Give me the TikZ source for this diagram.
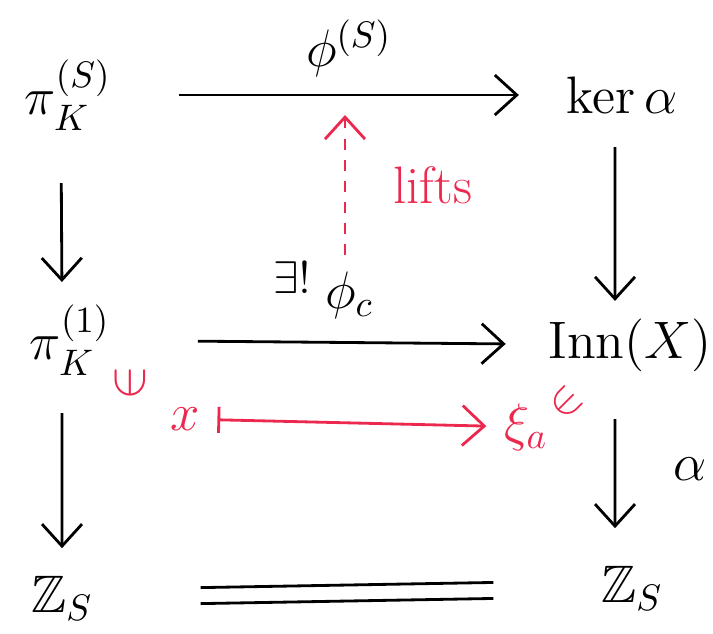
\RequirePackage{fix-cm}
\documentclass[tikz,border=0pt]{standalone}
\usepackage{amsmath,amssymb}
\usepackage{graphicx}
\usepackage{tikz}
\usetikzlibrary{positioning,calc,arrows.meta}
\usepackage{xcolor}
\definecolor{liftred}{RGB}{236,40,78}

\begin{document}
\begin{tikzpicture}[x=0.1mm,y=-0.1mm,
    obj/.style={inner sep=2pt,font=\fontsize{15}{18}\selectfont},
    small/.style={inner sep=1pt,font=\fontsize{13}{15}\selectfont},
    arrow/.style={-{Straight Barb[length=2.2mm,width=4mm]},line width=0.8pt},
    eqline/.style={line width=0.8pt,shorten <=10mm,shorten >=10mm},
    mapsto/.style={{Bar[width=2.6mm]}-{Straight Barb[length=2.2mm,width=4mm]},line width=0.8pt,liftred}]

\useasboundingbox (0,0) rectangle (713,633);

% objects of the square
\node[obj] (piS) at (68,95) {$\pi_K^{(S)}$};
\node[obj] (ker) at (622,95) {$\ker\alpha$};
\node[obj] (pi1) at (70,340) {$\pi_K^{(1)}$};
\node[obj] (inn) at (630,345) {$\mathrm{Inn}(X)$};
\node[obj] (zl) at (62,598) {$\mathbb{Z}_S$};
\node[obj] (zr) at (632,588) {$\mathbb{Z}_S$};

% horizontal maps
\draw[arrow,shorten <=6mm,shorten >=4mm] (piS) -- (ker)
    node[midway,above=1mm,xshift=1mm,obj] (phiS) {$\phi^{(S)}$};
\draw[arrow,shorten <=8mm,shorten >=3.5mm] (pi1) -- (inn)
    node[midway,above=1.5mm,xshift=2mm,obj] (phic) {$\phi_c$};
\node[small] (exu) at (292,278) {$\exists!$};
\draw[eqline,transform canvas={yshift=0.8mm}] (zl) -- (zr);
\draw[eqline,transform canvas={yshift=-0.8mm}] (zl) -- (zr);

% vertical maps
\draw[arrow,shorten <=4.5mm,shorten >=1.5mm] ([xshift=-0.7mm]piS.south) -- ([xshift=-0.8mm]pi1.north);
\draw[arrow,shorten <=3mm,shorten >=2mm] ([xshift=-0.8mm]pi1.south) -- (zl.north);
\draw[arrow,shorten <=2.6mm,shorten >=1mm] ([xshift=-0.7mm]ker.south) -- ([xshift=-1.5mm]inn.north);
\draw[arrow,shorten <=4mm,shorten >=3mm] ([xshift=-1.5mm]inn.south) -- ([xshift=-1.7mm]zr.north)
    node[midway,right=5mm,obj] (alpha) {$\alpha$};

% the lift
\coordinate (liftbot) at (345,255);
\coordinate (lifttop) at (345,115);
\draw[arrow,liftred,dashed] (liftbot) -- (lifttop)
    node[midway,right=4mm,obj,text=liftred] (lifts) {lifts};

% elements
\node[obj,text=liftred] (xel) at (185,419) {$x$};
\node[obj,text=liftred] (xin) at (130,383) {\rotatebox{90}{$\in$}};
\node[obj,text=liftred] (xia) at (526,427) {$\xi_a$};
\node[small,inner sep=0pt,text=liftred] (xiin) at (566,403) {\rotatebox{45}{$\in$}};
\draw[mapsto,shorten <=1mm,shorten >=1mm] (xel) -- (xia);

\end{tikzpicture}
\end{document}
